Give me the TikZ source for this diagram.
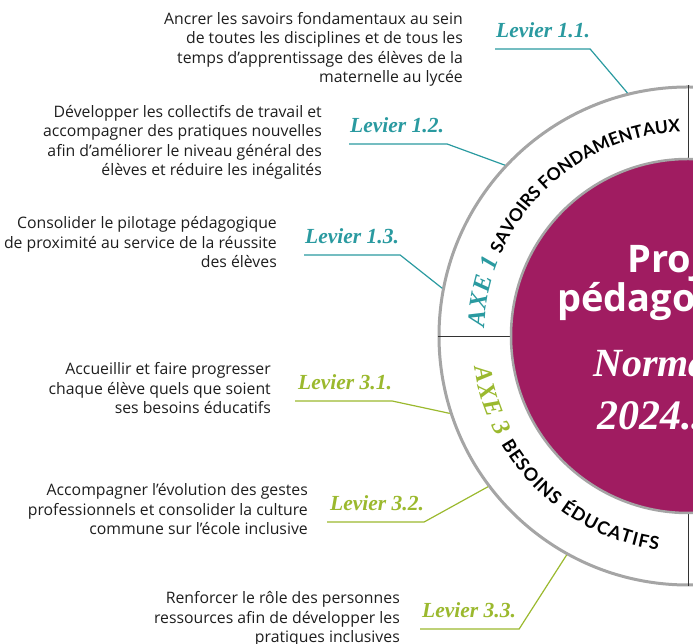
\documentclass[tikz,border=0pt]{standalone}
\usepackage{fontspec}
\setmainfont{Open Sans}
\newfontfamily\latof{Lato}
\newfontfamily\scriptf{Liberation Serif}
\usetikzlibrary{decorations.text,calc}
\definecolor{purp}{RGB}{160,28,97}
\definecolor{tealc}{RGB}{42,154,160}
\definecolor{greenc}{RGB}{155,185,46}
\definecolor{ringgray}{RGB}{165,165,165}
\definecolor{txt}{RGB}{30,30,30}
\newcommand\axeA{\scriptf\bfseries\itshape\fontsize{25}{27}\selectfont\color{tealc}}
\newcommand\axeB{\scriptf\bfseries\itshape\fontsize{25}{27}\selectfont\color{greenc}}
\newcommand\capsA{\latof\upshape\bfseries\fontsize{17.5}{20}\selectfont\color{black}}
\newcommand\capsB{\latof\upshape\bfseries\fontsize{18}{20}\selectfont\color{black}}
\begin{document}
\begin{tikzpicture}[x=1pt,y=1pt,
  body/.style={align=right, inner sep=0pt, anchor=base east, font=\fontsize{15.8}{19.6}\selectfont, text=txt},
  lev/.style={inner sep=0pt, anchor=base west, font=\scriptf\bfseries\itshape\fontsize{21.5}{24}\selectfont},
  levT/.style={lev, text=tealc},
  levG/.style={lev, text=greenc},
  connT/.style={draw=tealc, line width=1.2pt},
  connG/.style={draw=greenc, line width=1.2pt},
  divider/.style={draw=black!80, line width=0.9pt},
  ctitle/.style={inner sep=0pt, anchor=base west, text=white},
]
\useasboundingbox (0,0) rectangle (693,644);
\clip (0,0) rectangle (693,644);
\coordinate (c) at (688,308);
% ring
\node[circle, draw=ringgray, line width=3pt, fill=white, minimum size=498pt, inner sep=0pt] (ring) at (c) {};
\draw[divider] (ring.west) -- (c);
\draw[divider] (ring.north) -- (c);
\draw[divider] (ring.south) -- (c);
\node[circle, draw=ringgray, line width=2.5pt, fill=purp, minimum size=354pt, inner sep=0pt] (core) at (c) {};
% ring texts
\path[decorate, decoration={text along path, text align=fit to path,
  text={|\axeA|AXE 1 |\capsA|SAVOIRS FONDAMENTAUX}}]
  ($(c)+(177.5:204)$) arc[start angle=177.5, end angle=92.5, radius=204];
\path[decorate, decoration={text along path, text align=fit to path,
  text={|\axeB|AXE 3 |\capsB|BESOINS ÉDUCATIFS}}]
  ($(c)+(188.5:216)$) arc[start angle=188.5, end angle=262, radius=216];
% centre title
\node[ctitle, font=\bfseries\fontsize{38}{40}\selectfont] (t1) at (627,371) {Projet};
\node[ctitle, font=\bfseries\fontsize{38}{40}\selectfont] (t2) at (557,332) {pédagogique};
\node[ctitle, font=\scriptf\bfseries\itshape\fontsize{40}{44}\selectfont] (t3) at (593,267) {Normandie};
\node[ctitle, font=\scriptf\bfseries\itshape\fontsize{42}{46}\selectfont] (t4) at (597,214) {2024...};
% body texts (anchored on the baseline of their last line)
\node[body] (b11) at (463,561) {Ancrer les savoirs fondamentaux au sein\\de toutes les disciplines et de tous les\\temps d’apprentissage des élèves de la\\maternelle au lycée};
\node[body] (b12) at (322,468) {Développer les collectifs de travail et\\accompagner des pratiques nouvelles\\afin d’améliorer le niveau général des\\élèves et réduire les inégalités};
\node[body] (b13) at (277,376) {Consolider le pilotage pédagogique\\de proximité au service de la réussite\\des élèves};
\node[body] (b31) at (271,230) {Accueillir et faire progresser\\chaque élève quels que soient\\ses besoins éducatifs};
\node[body] (b32) at (308,109) {Accompagner l’évolution des gestes\\professionnels et consolider la culture\\commune sur l’école inclusive};
\node[body] (b33) at (400,1) {Renforcer le rôle des personnes\\ressources afin de développer les\\pratiques inclusives};
% levier labels
\node[levT] (l11) at (496,606) {Levier 1.1.};
\node[levT] (l12) at (350,511) {Levier 1.2.};
\node[levT] (l13) at (305,400) {Levier 1.3.};
\node[levG] (l31) at (298,254) {Levier 3.1.};
\node[levG] (l32) at (330,133) {Levier 3.2.};
\node[levG] (l33) at (422,26) {Levier 3.3.};
% connectors
\draw[connT] ($(l11.base west)+(-1,-11)$) -- ($(l11.base east)+(0,-11)$) -- (ring.104.3);
\draw[connT] ($(l12.base west)+(-1,-11)$) -- ($(l12.base east)+(3,-11)$) -- (ring.137.1);
\draw[connT] ($(l13.base west)+(-1,-11)$) -- ($(l13.base east)+(1,-11)$) -- (ring.169.4);
\draw[connG] ($(l31.base west)+(-3,-11)$) -- ($(l31.base east)+(0,-11)$) -- (ring.198.5);
\draw[connG] ($(l32.base west)+(-3,-11)$) -- ($(l32.base east)+(0,-11)$) -- (ring.217.1);
\draw[connG] ($(l33.base west)+(-2,-11)$) -- ($(l33.base east)+(3,-11)$) -- (ring.241.8);
\end{tikzpicture}
\end{document}
